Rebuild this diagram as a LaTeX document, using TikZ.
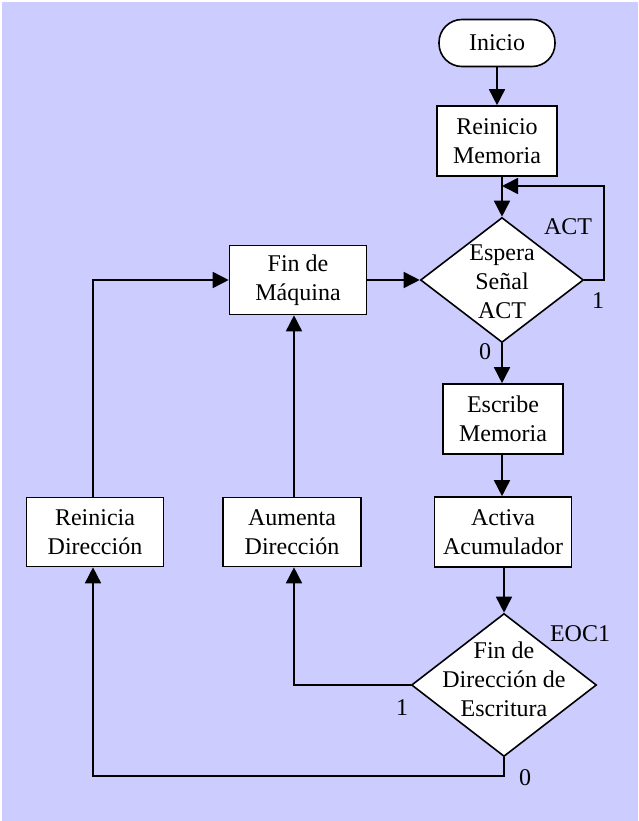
\documentclass[tikz,border=0pt]{standalone}
\usepackage{fontspec}
\setmainfont{Liberation Serif}
\usetikzlibrary{arrows.meta,shapes.geometric}
\begin{document}
\begin{tikzpicture}[x=1pt,y=-1pt,
  font=\fontsize{24}{29}\selectfont,
  box/.style={draw,line width=1.6pt,fill=white,align=center,inner sep=0pt},
  term/.style={box,rounded corners=23pt},
  dec/.style={draw,line width=1.6pt,fill=white,shape=diamond,inner sep=0pt},
  arr/.style={line width=1.6pt,-{Triangle[length=16pt,width=16pt]}},
  ln/.style={line width=1.6pt}]
  % background
  \fill[white] (0,0) rectangle (638,821);
  \fill[fill={rgb,255:red,204;green,204;blue,255}] (2,2) rectangle (638,821);
  \useasboundingbox (0,0) rectangle (638,821);

  % nodes
  \node[term,minimum width=116pt,minimum height=47pt] (inicio) at (497,43) {Inicio};
  \node[box,minimum width=120pt,minimum height=70pt] (rmem) at (497,141) {Reinicio\\Memoria};
  \node[dec,minimum width=163pt,minimum height=125pt,
        label={[align=center,yshift=-2pt]center:Espera\\Señal\\ACT}] (espera) at (502,280) {};
  \node[box,minimum width=137pt,minimum height=69pt] (finm) at (298,280) {Fin de\\Máquina};
  \node[box,minimum width=120pt,minimum height=70pt] (escm) at (503,419) {Escribe\\Memoria};
  \node[box,minimum width=137pt,minimum height=70pt] (activa) at (503,532) {Activa\\Acumulador};
  \node[box,minimum width=137pt,minimum height=69pt] (reinD) at (95,532) {Reinicia\\Dirección};
  \node[box,minimum width=138pt,minimum height=69pt] (aumD) at (292,532) {Aumenta\\Dirección};
  \node[dec,minimum width=185pt,minimum height=143pt,
        label={[align=center,yshift=6pt]center:Fin de\\Dirección de\\Escritura}] (findir) at (504,685) {};

  % turning points
  \coordinate (loopc) at (604,186);
  \coordinate (botc) at (504,776);

  % connectors
  \draw[arr] (inicio) -- (rmem);
  \draw[arr] (rmem.south -| espera.north) -- (espera.north);
  \draw[arr] (espera.east) -| (loopc) -- (espera.north |- loopc);
  \draw[arr] (espera.south) -- (escm.north -| espera.south);
  \draw[arr] (escm.south -| espera.south) -- (activa.north -| espera.south);
  \draw[arr] (activa.south -| findir.north) -- (findir.north);
  \draw[arr] (findir.west) -| ([xshift=2pt]aumD.south);
  \draw[arr] ([xshift=2pt]aumD.north) -- ([xshift=2pt]aumD.north |- finm.south);
  \draw[arr] (findir.south) -- (botc) -| ([xshift=-2pt]reinD.south);
  \draw[arr] ([xshift=-2pt]reinD.north) |- (finm.west);
  \draw[arr] (finm.east) -- (espera.west);

  % branch labels
  \node (lact) at (568,227) {ACT};
  \node (l1a) at (598,301) {1};
  \node (l0a) at (485,352) {0};
  \node (leoc) at (580,634) {EOC1};
  \node (l1b) at (402,708) {1};
  \node (l0b) at (525,778) {0};
\end{tikzpicture}
\end{document}
